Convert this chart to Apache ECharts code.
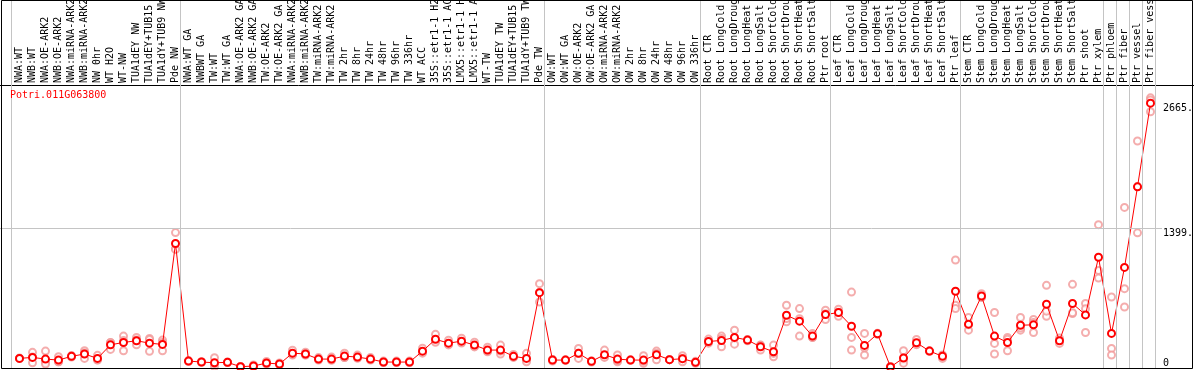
<!DOCTYPE html>
<html>
<head>
<meta charset="utf-8">
<script src="https://cdn.jsdelivr.net/npm/echarts@6/dist/echarts.min.js"></script>
<style>
html,body{margin:0;padding:0;background:#fff;}
#chart{width:1194px;height:370px;}
</style>
</head>
<body>
<div id="chart"></div>
<script>
var geneTitle = 'Potri.011G063800';

var categories = [
 'NWA:WT','NWB:WT','NWA:OE-ARK2','NWB:OE-ARK2','NWA:miRNA-ARK2','NWB:miRNA-ARK2','NW 0hr','WT H2O','WT-NW',
 'TUA1dEY NW','TUA1dEY+TUB15 NW','TUA1dY+TUB9 NW','Pde NW',
 'NWA:WT GA','NWBWT GA','TW:WT','TW:WT GA','NWA:OE-ARK2 GA','NWB:OE-ARK2 GA','TW:OE-ARK2','TW:OE-ARK2 GA',
 'NWA:miRNA-ARK2','NWB:miRNA-ARK2','TW:miRNA-ARK2','TW:miRNA-ARK2','TW 2hr','TW 8hr','TW 24hr','TW 48hr','TW 96hr','TW 336hr',
 'WT ACC','35S::etr1-1 H2O','35S::etr1-1 ACC','LMX5::etr1-1 H2O','LMX5::etr1-1 ACC','WT-TW','TUA1dEY TW','TUA1dEY+TUB15 TW','TUA1dY+TUB9 TW','Pde TW',
 'OW:WT','OW:WT GA','OW:OE-ARK2','OW:OE-ARK2 GA','OW:miRNA-ARK2','OW:miRNA-ARK2','OW 2hr','OW 8hr','OW 24hr','OW 48hr','OW 96hr','OW 336hr',
 'Root CTR','Root LongCold','Root LongDrought','Root LongHeat','Root LongSalt','Root ShortCold','Root ShortDrought','Root ShortHeat','Root ShortSalt','Ptr root',
 'Leaf CTR','Leaf LongCold','Leaf LongDrought','Leaf LongHeat','Leaf LongSalt','Leaf ShortCold','Leaf ShortDrought','Leaf ShortHeat','Leaf ShortSalt','Ptr leaf',
 'Stem CTR','Stem LongCold','Stem LongDrought','Stem LongHeat','Stem LongSalt','Stem ShortCold','Stem ShortDrought','Stem ShortHeat','Stem ShortSalt','Ptr shoot',
 'Ptr xylem','Ptr phloem','Ptr fiber','Ptr vessel','Ptr fiber vessel'
];

var means = [
 87,97,80,70,108,131,87,224,248,265,241,228,1247,
 60,50,43,47,3,10,40,30,140,131,80,80,110,100,80,50,50,50,
 160,280,241,261,221,171,171,108,87,751,
 70,70,138,57,124,80,70,70,124,74,84,47,
 258,268,299,272,204,154,523,463,312,530,
 550,412,218,335,0,91,245,161,108,765,
 433,717,312,248,422,426,634,265,641,526,
 1109,339,1006,1820,2665
];

var rep1 = [
 90,148,161,104,115,164,118,248,312,298,288,272,1358,
 65,50,94,50,5,20,55,40,170,150,95,100,140,120,95,60,60,60,
 190,330,270,290,250,200,221,127,138,842,
 77,70,188,60,171,121,70,114,161,74,114,47,
 282,312,372,272,221,221,624,590,339,573,
 583,757,339,335,5,164,279,161,121,1081,
 500,741,550,299,500,480,825,265,835,641,
 1438,707,1612,2283,2719
];
var rep2 = [
 85,43,50,53,100,87,70,178,164,272,158,248,1195,
 58,50,3,45,2,5,30,25,120,120,70,70,95,90,70,45,45,45,
 150,260,230,250,210,160,131,100,70,754,
 60,70,87,50,104,53,70,37,138,74,53,37,
 251,204,231,265,171,104,456,312,299,480,
 513,299,121,330,0,70,230,161,87,624,
 372,707,238,164,372,349,513,238,540,349,
 976,188,791,1355,2578
];
var rep3 = [
 86,100,30,53,109,142,73,246,268,225,277,164,1188,
 57,50,32,46,2,5,35,25,130,123,75,70,95,90,75,45,45,45,
 140,250,223,243,203,153,160,97,53,657,
 73,70,139,61,97,66,70,59,73,74,85,57,
 241,288,294,279,220,137,489,487,298,537,
 554,171,194,340,0,39,226,161,116,590,
 427,703,131,281,394,449,564,292,548,588,
 898,121,606,1822,2698
];

var groupEnds = [-1, 12, 40, 52, 62, 72, 83, 84, 85, 86, 87];
var yTickValues = [0, 1399, 2665];
var gridValue = 1399;

var chart = echarts.init(document.getElementById('chart'));

var idx = categories.map(function (c, i) { return i; });
var meanData = means.map(function (v, i) { return [i, v]; });
var repData = [];
[rep1, rep2, rep3].forEach(function (arr) {
  arr.forEach(function (v, i) { repData.push([i, v]); });
});

var xMin = -1.5, pxPerCat = 13, chartW = 1194;
var xMax = xMin + chartW / pxPerCat;
var sepOffset = 5 / pxPerCat;
var kPerPx = 1399 / 138.5;
var yMin = -2 * kPerPx;
var yMax = yMin + 369 * kPerPx;
var mono = 'DejaVu Sans Mono';

var option = {
  animation: false,
  backgroundColor: '#fff',
  title: {
    text: geneTitle, left: 10, top: 90, padding: 0,
    textStyle: { color: '#ff0000', fontFamily: mono, fontSize: 10, fontWeight: 'normal' }
  },
  grid: { left: 0, right: 0, top: 0, bottom: 1, containLabel: false, outerBoundsMode: 'none' },
  xAxis: {
    type: 'value', min: xMin, max: xMax, position: 'top', offset: -85,
    axisLine: { show: true, onZero: false, lineStyle: { color: '#000', width: 1 } },
    axisTick: { show: false },
    splitLine: { show: false },
    axisLabel: {
      customValues: idx, rotate: -90, margin: 2, hideOverlap: false,
      fontFamily: mono, fontSize: 10, color: '#000',
      formatter: function (v) { return categories[Math.round(v)]; }
    }
  },
  yAxis: {
    type: 'value', min: yMin, max: yMax, position: 'right',
    axisLine: { show: false }, axisTick: { show: false }, splitLine: { show: false },
    axisLabel: {
      customValues: yTickValues, inside: true, margin: 31, align: 'left',
      fontFamily: mono, fontSize: 10, color: '#000',
      formatter: function (v) { return v === 0 ? '{b|0}' : '{t|' + v + '.}'; },
      rich: {
        b: { fontFamily: mono, fontSize: 10, color: '#000', padding: [0, 0, 8, 0] },
        t: { fontFamily: mono, fontSize: 10, color: '#000', padding: [10, 0, 0, 0] }
      }
    }
  },
  series: [
    {
      type: 'line', data: [], silent: true, z: 1,
      markLine: {
        silent: true, symbol: 'none', label: { show: false },
        lineStyle: { color: '#c4c4c4', width: 1, type: 'solid' },
        data: groupEnds.map(function (e) { return { xAxis: e + sepOffset }; }).concat([
          [{ coord: [xMin, gridValue] }, { coord: [(1162 / pxPerCat) + xMin, gridValue] }]
        ])
      }
    },
    {
      type: 'scatter', data: repData, z: 2,
      symbol: 'emptyCircle', symbolSize: 7,
      itemStyle: { color: '#f19999', borderColor: '#f19999', borderWidth: 1.2 }
    },
    {
      type: 'line', data: meanData, z: 3,
      symbol: 'emptyCircle', symbolSize: 7,
      lineStyle: { color: '#ff0000', width: 1 },
      itemStyle: { color: '#ff0000', borderColor: '#ff0000', borderWidth: 1.6 }
    }
  ],
  graphic: [{
    type: 'rect', silent: true, z: 100,
    shape: { x: 1.5, y: 0.5, width: 1191, height: 368 },
    style: { fill: 'none', stroke: '#000', lineWidth: 1 }
  }]
};
chart.setOption(option);
</script>
</body>
</html>
